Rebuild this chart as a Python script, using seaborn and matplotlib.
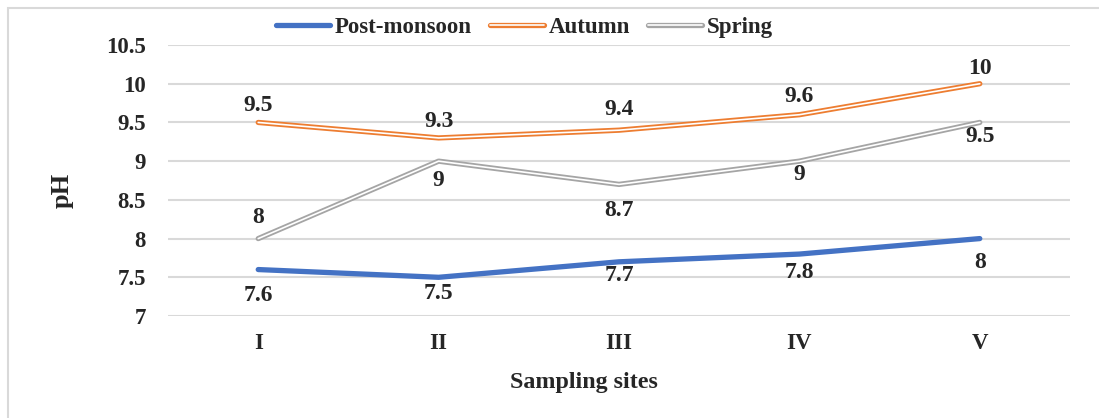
import matplotlib
matplotlib.use("Agg")
import matplotlib.pyplot as plt
import matplotlib.patheffects as pe
import seaborn as sns
import pandas as pd

sites = ["I", "II", "III", "IV", "V"]
post_monsoon = [7.6, 7.5, 7.7, 7.8, 8.0]
autumn = [9.5, 9.3, 9.4, 9.6, 10.0]
spring = [8.0, 9.0, 8.7, 9.0, 9.5]
value_labels = {
    "Post-monsoon": ["7.6", "7.5", "7.7", "7.8", "8"],
    "Autumn": ["9.5", "9.3", "9.4", "9.6", "10"],
    "Spring": ["8", "9", "8.7", "9", "9.5"],
}
y_ticks = [7, 7.5, 8, 8.5, 9, 9.5, 10, 10.5]
y_tick_labels = ["7", "7.5", "8", "8.5", "9", "9.5", "10", "10.5"]

BLUE = "#4472C4"
ORANGE = "#ED7D31"
GRAY = "#A5A5A5"

sns.set_style("white")
plt.rcParams["font.family"] = ["Liberation Serif", "DejaVu Serif"]
plt.rcParams["font.weight"] = "bold"

df = pd.DataFrame({"site": sites, "Post-monsoon": post_monsoon,
                   "Autumn": autumn, "Spring": spring})

fig = plt.figure(figsize=(10.99, 4.18), dpi=100)
ax = fig.add_axes([0.1529, 0.244, 0.8207, 0.6483])

# gridlines
for t in y_ticks:
    ax.axhline(t, color="#D9D9D9", lw=1.5, zorder=0)

sns.lineplot(data=df, x="site", y="Post-monsoon", ax=ax, color=BLUE, lw=3.8,
             label="Post-monsoon", solid_capstyle="round", sort=False)
sns.lineplot(data=df, x="site", y="Autumn", ax=ax, color="white", lw=1.2,
             label="Autumn", sort=False,
             path_effects=[pe.Stroke(linewidth=3.8, foreground=ORANGE, capstyle="round"), pe.Normal()])
sns.lineplot(data=df, x="site", y="Spring", ax=ax, color="white", lw=1.2,
             label="Spring", sort=False,
             path_effects=[pe.Stroke(linewidth=3.8, foreground=GRAY, capstyle="round"), pe.Normal()])

# data label offsets in points (positive = above the point)
offsets = {
    "Post-monsoon": [-19, -11.5, -9.5, -13, -17],
    "Autumn": [12, 11.5, 15, 13, 11],
    "Spring": [15, -14, -19, -9.5, -10],
}
for name in ["Post-monsoon", "Autumn", "Spring"]:
    for i, (v, lab) in enumerate(zip(df[name], value_labels[name])):
        ax.annotate(lab, (i, v), xytext=(0, offsets[name][i]), textcoords="offset points",
                    ha="center", va="center", fontsize=17, fontweight="bold")

ax.set_xlim(-0.5, 4.5)
ax.set_ylim(7, 10.5)
ax.set_yticks(y_ticks)
ax.set_yticklabels(y_tick_labels)
ax.tick_params(axis="both", length=0, labelsize=16.5)
ax.tick_params(axis="y", pad=16)
ax.tick_params(axis="x", pad=12)
for lab in ax.get_xticklabels() + ax.get_yticklabels():
    lab.set_fontweight("bold")
for s in ax.spines.values():
    s.set_visible(False)
ax.set_xlabel("")
ax.set_ylabel("")
fig.text(0.531, 0.0861, "Sampling sites", ha="center", va="center",
         fontsize=17.3, fontweight="bold")
fig.text(0.0564, 0.5455, "pH", ha="center", va="center", rotation=90,
         fontsize=19, fontweight="bold")

handles, labels = ax.get_legend_handles_labels()
ax.get_legend().remove()
fig.legend(handles, labels, loc="center", bbox_to_anchor=(0.477, 0.935), ncol=3,
           frameon=False, handlelength=2.36, columnspacing=0.8,
           handletextpad=0.2, prop={"weight": "bold", "size": 16.5})

# figure border
fig.patches.append(plt.Rectangle((8 / 1099, -0.05), 1.1, 1 - 8 / 418 + 0.05,
                                 transform=fig.transFigure, fill=False,
                                 edgecolor="#D9D9D9", lw=1.5))

fig.savefig("out.png", dpi=100)
